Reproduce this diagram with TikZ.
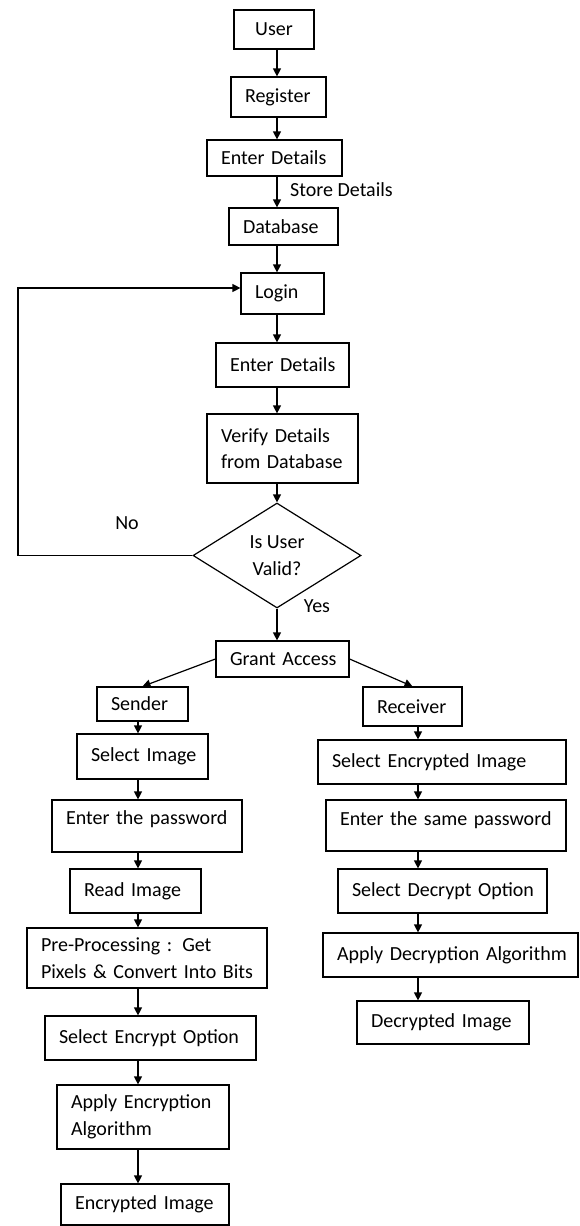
\documentclass[tikz,border=0pt]{standalone}
\usepackage{fontspec}
\setmainfont{Carlito}
\usetikzlibrary{shapes.geometric,arrows.meta}
\newcommand{\diagfont}{\fontsize{20}{26.5}\selectfont}
\begin{document}
\begin{tikzpicture}[x=1pt,y=-1pt,
  box/.style={draw=black, line width=1.2pt, rectangle, inner xsep=14pt, inner ysep=0pt, align=left, font=\diagfont, text=black},
  arr/.style={draw=black, line width=1.2pt, -{Triangle[width=8pt,length=8pt]}},
  lbl/.style={font=\diagfont, inner sep=0pt, text=black}]
\useasboundingbox (0,0) rectangle (579,1226);
% axes for the vertical connectors
\coordinate (axis) at (277,0);
\coordinate (saxis) at (138,0);
\coordinate (raxis) at (418,0);
\coordinate (loopc) at (18,288);
% main column
\node[box, align=center, minimum width=80pt, minimum height=39pt, inner xsep=0pt] (user) at (274,29.5) {User};
\node[box, minimum height=40pt, text width=67pt] (register) at (278.5,97) {\mbox{Register}};
\node[box, minimum height=36pt, text width=107pt] (ed1) at (274.5,158) {\mbox{Enter Details}};
\node[box, minimum height=37pt, text width=81pt] (db) at (283.5,226.5) {\mbox{Database}};
\node[box, minimum height=41pt, text width=55pt] (login) at (282.5,293.5) {\mbox{Login}};
\node[box, minimum height=44pt, text width=105pt] (ed2) at (282.5,365) {\mbox{Enter Details}};
\node[box, minimum height=69pt, text width=123pt] (verify) at (282.5,448.5) {\mbox{Verify Details}\\\mbox{from Database}};
\node[diamond, draw=black, line width=1.2pt, shape aspect=1.6, minimum width=168pt, minimum height=105pt, inner sep=0pt, align=center, font=\diagfont] (dia) at (277,555.5) {Is User\\Valid?};
\node[box, minimum height=36pt, text width=105pt] (grant) at (282.5,659) {\mbox{Grant Access}};
% sender column
\node[box, minimum height=34pt, text width=63pt] (sender) at (142.5,704) {\mbox{Sender}};
\node[box, minimum height=45pt, text width=103pt] (simg) at (142.5,756.5) {\mbox{Select Image}};
\node[box, minimum height=52pt, text width=162pt] (ep) at (147,826) {\raisebox{7pt}[\height][\depth]{Enter the password}};
\node[box, minimum height=44pt, text width=103pt] (rimg) at (135.5,891) {\mbox{Read Image}};
\node[box, minimum height=60pt, text width=212pt] (pre) at (147,958) {\mbox{Pre-Processing : Get}\\\mbox{Pixels \& Convert Into Bits}};
\node[box, minimum height=44pt, text width=183pt] (seo) at (150.5,1038) {\mbox{Select Encrypt Option}};
\node[box, minimum height=64pt, text width=144pt] (aea) at (143,1117) {\mbox{Apply Encryption}\\\mbox{Algorithm}};
\node[box, minimum height=41pt, text width=140pt] (eimg) at (145,1204.5) {\mbox{Encrypted Image}};
% receiver column
\node[box, minimum height=39pt, text width=71pt] (receiver) at (412.5,706.5) {\mbox{Receiver}};
\node[box, minimum height=44pt, text width=220pt] (sei) at (442,762) {\mbox{Select Encrypted Image}};
\node[box, minimum height=51pt, text width=212pt] (esp) at (446,825.5) {\raisebox{5.5pt}[\height][\depth]{Enter the same password}};
\node[box, minimum height=44pt, text width=181pt] (sdo) at (442.5,891) {\mbox{Select Decrypt Option}};
\node[box, minimum height=44pt, text width=227pt] (ada) at (450.5,955) {\mbox{Apply Decryption Algorithm}};
\node[box, minimum height=43pt, text width=144pt] (dimg) at (443,1022.5) {\mbox{Decrypted Image}};
% labels
\node[lbl, anchor=west] (store) at (290,190) {Store Details};
\node[lbl] (no) at (127,523) {No};
\node[lbl] (yes) at (317,606) {Yes};
% connectors, main column
\draw[arr] (user.south -| axis) -- (register.north -| axis);
\draw[arr] (register.south -| axis) -- (ed1.north -| axis);
\draw[arr] (ed1.south -| axis) -- (db.north -| axis);
\draw[arr] (db.south -| axis) -- (login.north -| axis);
\draw[arr] (login.south -| axis) -- (ed2.north -| axis);
\draw[arr] (ed2.south -| axis) -- (verify.north -| axis);
\draw[arr] (verify.south -| axis) -- (dia.north);
\draw[arr] (dia.south) -- (grant.north -| axis);
\draw[arr] (dia.west) -- (dia.west -| loopc) -- (loopc) -- (loopc -| login.west);
\draw[arr] (grant.west) -- (sender.north);
\draw[arr] (grant.east) -- (receiver.north);
% sender
\draw[arr] (sender.south -| saxis) -- (simg.north -| saxis);
\draw[arr] (simg.south -| saxis) -- (ep.north -| saxis);
\draw[arr] (ep.south -| saxis) -- (rimg.north -| saxis);
\draw[arr] (rimg.south -| saxis) -- (pre.north -| saxis);
\draw[arr] (pre.south -| saxis) -- (seo.north -| saxis);
\draw[arr] (seo.south -| saxis) -- (aea.north -| saxis);
\draw[arr] (aea.south -| saxis) -- (eimg.north -| saxis);
% receiver
\draw[arr] (receiver.south -| raxis) -- (sei.north -| raxis);
\draw[arr] (sei.south -| raxis) -- (esp.north -| raxis);
\draw[arr] (esp.south -| raxis) -- (sdo.north -| raxis);
\draw[arr] (sdo.south -| raxis) -- (ada.north -| raxis);
\draw[arr] (ada.south -| raxis) -- (dimg.north -| raxis);
\end{tikzpicture}
\end{document}
